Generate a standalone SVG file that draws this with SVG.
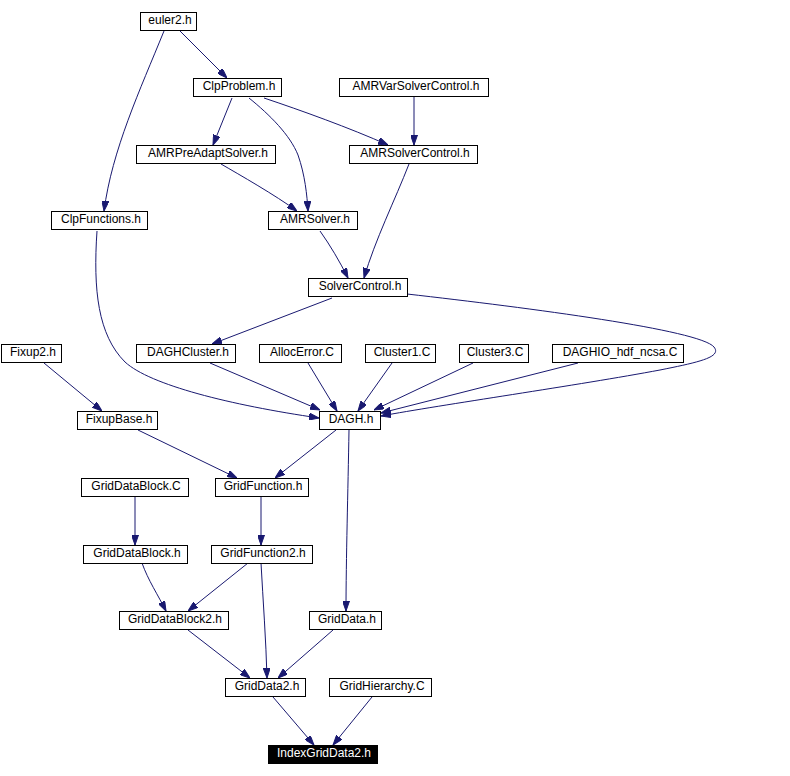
<svg xmlns="http://www.w3.org/2000/svg" width="790" height="776" viewBox="0 0 790 776">
<style>
.n rect{fill:#fff;stroke:#000;stroke-width:1}
.n text{font-family:"Liberation Sans",Arial,sans-serif;font-size:12px;text-anchor:middle;fill:#000}
#IndexGridData2 rect{fill:#000}
#IndexGridData2 text{fill:#fff}
#edges path{fill:none;stroke:#191970;stroke-width:1;marker-end:url(#ah)}
</style>
<defs>
<marker id="ah" markerWidth="10" markerHeight="7" refX="10" refY="3.5" orient="auto" markerUnits="userSpaceOnUse"><path d="M0,0 L10,3.5 L0,7 z" fill="#191970" stroke="#191970" stroke-width="1"/></marker>
</defs>
<rect width="790" height="776" fill="#fff"/>
<g id="edges">
<path d="M180,31 L227,78"/>
<path d="M164,31 C140,90 112,150 104,211"/>
<path d="M232,98 L213,145"/>
<path d="M249,98 C270,115 290,135 298,155 C305,175 307,195 308,211"/>
<path d="M264,98 C300,110 350,128 388,145"/>
<path d="M414,97 L414,145"/>
<path d="M221,164 C240,175 275,195 297,211"/>
<path d="M320,231 C330,245 340,262 348,278"/>
<path d="M409,164 C395,200 375,240 364,278"/>
<path d="M332,298 L212,344"/>
<path d="M407,294 C530,308 700,330 714,347 C722,357 700,362 660,370 C580,385 440,405 381,416"/>
<path d="M210,363 L320,410"/>
<path d="M97,231 C93,290 98,335 125,362 C150,385 230,405 319,418"/>
<path d="M308,363 L337,411"/>
<path d="M392,363 L358,411"/>
<path d="M473,363 L374,410"/>
<path d="M578,363 L381,413"/>
<path d="M44,363 L102,411"/>
<path d="M138,430 L237,478"/>
<path d="M336,430 L275,478"/>
<path d="M349,430 C348,490 346,560 346,611"/>
<path d="M135,497 L135,545"/>
<path d="M261,497 L261,545"/>
<path d="M142,563 C148,580 158,595 166,611"/>
<path d="M248,563 L188,611"/>
<path d="M261,563 C263,600 266,640 267,678"/>
<path d="M188,630 L250,678"/>
<path d="M333,630 L278,678"/>
<path d="M273,697 L314,745"/>
<path d="M372,697 L333,745"/>
</g>
<g id="euler2" class="n"><rect x="140.5" y="12.5" width="56" height="18"/><text x="170" y="24">euler2.h</text></g>
<g id="ClpProblem" class="n"><rect x="193.5" y="78.5" width="88" height="18"/><text x="239" y="90">ClpProblem.h</text></g>
<g id="AMRVarSolverControl" class="n"><rect x="339.5" y="78.5" width="149" height="18"/><text x="416" y="90">AMRVarSolverControl.h</text></g>
<g id="AMRPreAdaptSolver" class="n"><rect x="136.5" y="145.5" width="139" height="18"/><text x="208" y="157">AMRPreAdaptSolver.h</text></g>
<g id="AMRSolverControl" class="n"><rect x="349.5" y="145.5" width="128" height="18"/><text x="415" y="157">AMRSolverControl.h</text></g>
<g id="ClpFunctions" class="n"><rect x="51.5" y="211.5" width="96" height="18"/><text x="101" y="223">ClpFunctions.h</text></g>
<g id="AMRSolver" class="n"><rect x="268.5" y="211.5" width="89" height="18"/><text x="315" y="223">AMRSolver.h</text></g>
<g id="SolverControl" class="n"><rect x="308.5" y="278.5" width="99" height="18"/><text x="360" y="290">SolverControl.h</text></g>
<g id="Fixup2" class="n"><rect x="1.5" y="344.5" width="60" height="18"/><text x="33" y="356">Fixup2.h</text></g>
<g id="DAGHCluster" class="n"><rect x="136.5" y="344.5" width="99" height="18"/><text x="188" y="356">DAGHCluster.h</text></g>
<g id="AllocError" class="n"><rect x="259.5" y="344.5" width="82" height="18"/><text x="302" y="356">AllocError.C</text></g>
<g id="Cluster1" class="n"><rect x="365.5" y="344.5" width="70" height="18"/><text x="402" y="356">Cluster1.C</text></g>
<g id="Cluster3" class="n"><rect x="459.5" y="344.5" width="69" height="18"/><text x="495" y="356">Cluster3.C</text></g>
<g id="DAGHIO_hdf_ncsa" class="n"><rect x="552.5" y="344.5" width="131" height="18"/><text x="620" y="356">DAGHIO_hdf_ncsa.C</text></g>
<g id="FixupBase" class="n"><rect x="77.5" y="411.5" width="80" height="18"/><text x="119" y="423">FixupBase.h</text></g>
<g id="DAGH" class="n"><rect x="319.5" y="411.5" width="61" height="18"/><text x="351" y="423">DAGH.h</text></g>
<g id="GridDataBlockC" class="n"><rect x="81.5" y="478.5" width="107" height="18"/><text x="136" y="490">GridDataBlock.C</text></g>
<g id="GridFunction" class="n"><rect x="215.5" y="478.5" width="93" height="18"/><text x="263" y="490">GridFunction.h</text></g>
<g id="GridDataBlock" class="n"><rect x="83.5" y="545.5" width="104" height="18"/><text x="137" y="557">GridDataBlock.h</text></g>
<g id="GridFunction2" class="n"><rect x="211.5" y="545.5" width="101" height="18"/><text x="263" y="557">GridFunction2.h</text></g>
<g id="GridDataBlock2" class="n"><rect x="119.5" y="611.5" width="109" height="18"/><text x="175" y="623">GridDataBlock2.h</text></g>
<g id="GridData" class="n"><rect x="309.5" y="611.5" width="72" height="18"/><text x="347" y="623">GridData.h</text></g>
<g id="GridData2" class="n"><rect x="225.5" y="678.5" width="80" height="18"/><text x="267" y="690">GridData2.h</text></g>
<g id="GridHierarchy" class="n"><rect x="329.5" y="678.5" width="102" height="18"/><text x="382" y="690">GridHierarchy.C</text></g>
<g id="IndexGridData2" class="n"><rect x="268.5" y="745.5" width="109" height="18"/><text x="324" y="757">IndexGridData2.h</text></g>
</svg>
